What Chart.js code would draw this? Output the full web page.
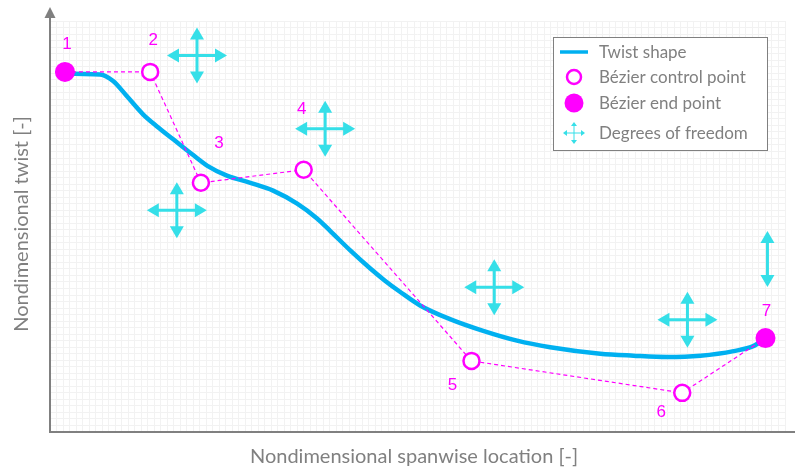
<!DOCTYPE html>
<html>
<head>
<meta charset="utf-8">
<script src="https://cdn.jsdelivr.net/npm/chart.js@4.4.0/dist/chart.umd.min.js"></script>
<style>
  html, body { margin: 0; padding: 0; background: #fff; }
  #wrap { width: 795px; height: 472px; }
</style>
</head>
<body>
<div id="wrap"><canvas id="chartTwist" width="795" height="472"></canvas></div>
<script>
  // Bézier control polygon (spanwise location, twist)
  const ctrlX = [0.023, 0.154, 0.232, 0.390, 0.648, 0.972, 1.100];
  const ctrlY = [0.552, 0.552, 0.382, 0.402, 0.109, 0.060, 0.144];
  const ctrlLabels = ['1', '2', '3', '4', '5', '6', '7'];
  const ctrlIsEnd = [true, false, false, false, false, false, true];

  // Twist shape along the span
  const twistX = [0.023, 0.038, 0.077, 0.097, 0.118, 0.143, 0.165, 0.189, 0.218, 0.242, 0.272, 0.308,
                  0.343, 0.380, 0.411, 0.431, 0.462, 0.492, 0.515, 0.538, 0.569, 0.615, 0.666, 0.718,
                  0.769, 0.846, 0.897, 0.949, 1.000, 1.051, 1.082, 1.100];
  const twistY = [0.552, 0.549, 0.548, 0.538, 0.515, 0.487, 0.468, 0.449, 0.426, 0.408, 0.393, 0.382,
                  0.370, 0.350, 0.327, 0.308, 0.278, 0.251, 0.232, 0.215, 0.194, 0.173, 0.155, 0.140,
                  0.130, 0.120, 0.117, 0.115, 0.117, 0.124, 0.132, 0.144];

  // Degrees of freedom markers (false = vertical only)
  const dofX = [0.226, 0.195, 0.423, 0.683, 0.980, 1.103];
  const dofY = [0.577, 0.340, 0.465, 0.222, 0.172, 0.265];
  const dofHoriz = [true, true, true, true, true, false];

  const legendItems = ['Twist shape', 'Bézier control point', 'Bézier end point', 'Degrees of freedom'];

  const MAGENTA = '#ff00ff';
  const BLUE = '#00b0f0';
  const CYAN = '#35dfe8';
  const GREY = '#808080';

  // label offsets (px) from each control point
  const labelDx = [2, 3, 18, -2, -19, -21, 1];
  const labelDy = [-28, -32, -39, -60, 24, 19, -27];

  function arrowHead(ctx, x, y, dx, dy, len, half) {
    // tip at (x,y), pointing along (dx,dy)
    const bx = x - dx * len, by = y - dy * len;
    ctx.beginPath();
    ctx.moveTo(x, y);
    ctx.lineTo(bx - dy * half, by + dx * half);
    ctx.lineTo(bx + dy * half, by - dx * half);
    ctx.closePath();
    ctx.fill();
  }

  function drawDof(ctx, cx, cy, hx, hy, head, half, width, horiz) {
    ctx.lineWidth = width;
    ctx.beginPath();
    ctx.moveTo(cx, cy - hy + head * 0.5);
    ctx.lineTo(cx, cy + hy - head * 0.5);
    if (horiz) {
      ctx.moveTo(cx - hx + head * 0.5, cy);
      ctx.lineTo(cx + hx - head * 0.5, cy);
    }
    ctx.stroke();
    arrowHead(ctx, cx, cy - hy, 0, -1, head, half);
    arrowHead(ctx, cx, cy + hy, 0, 1, head, half);
    if (horiz) {
      arrowHead(ctx, cx - hx, cy, -1, 0, head, half);
      arrowHead(ctx, cx + hx, cy, 1, 0, head, half);
    }
  }

  const decorations = {
    id: 'decorations',
    beforeDatasetsDraw(chart) {
      const {ctx, chartArea: a} = chart;
      ctx.save();
      ctx.strokeStyle = GREY;
      ctx.fillStyle = GREY;
      ctx.lineWidth = 2;
      ctx.beginPath();
      ctx.moveTo(a.left, a.bottom);
      ctx.lineTo(a.left, 17);
      ctx.moveTo(a.left - 1, a.bottom);
      ctx.lineTo(795, a.bottom);
      ctx.stroke();
      arrowHead(ctx, a.left, 7, 0, -1, 11, 5.5);

      // axis titles
      ctx.font = '20px Lato';
      ctx.textAlign = 'center';
      ctx.textBaseline = 'middle';
      ctx.fillText('Nondimensional spanwise location [-]', 414, 457);
      ctx.translate(22, 224);
      ctx.rotate(-Math.PI / 2);
      ctx.fillText('Nondimensional twist [-]', 0, 0);
      ctx.restore();
    },
    afterDatasetsDraw(chart) {
      const {ctx, scales: {x, y}} = chart;
      ctx.save();
      // degrees of freedom
      ctx.strokeStyle = CYAN;
      ctx.fillStyle = CYAN;
      dofX.forEach((v, i) => {
        drawDof(ctx, x.getPixelForValue(v), y.getPixelForValue(dofY[i]), 30, 28, 12, 7, 3, dofHoriz[i]);
      });
      // point numbers
      ctx.fillStyle = MAGENTA;
      ctx.font = '17px "Liberation Sans"';
      ctx.textAlign = 'center';
      ctx.textBaseline = 'middle';
      ctrlX.forEach((v, i) => {
        ctx.fillText(ctrlLabels[i], x.getPixelForValue(v) + labelDx[i], y.getPixelForValue(ctrlY[i]) + labelDy[i]);
      });
      ctx.restore();
    },
    afterDraw(chart) {
      const {ctx} = chart;
      const bx = 553, by = 37, bw = 214, bh = 113;
      ctx.save();
      ctx.fillStyle = '#fff';
      ctx.fillRect(bx, by, bw, bh);
      ctx.strokeStyle = GREY;
      ctx.lineWidth = 1;
      ctx.strokeRect(bx + 0.5, by + 0.5, bw, bh);

      const rows = [52, 77, 103, 133];
      const sx = 574;
      // twist shape
      ctx.strokeStyle = BLUE;
      ctx.lineWidth = 3.5;
      ctx.beginPath();
      ctx.moveTo(560, rows[0]);
      ctx.lineTo(588, rows[0]);
      ctx.stroke();
      // control point
      ctx.strokeStyle = MAGENTA;
      ctx.lineWidth = 2.5;
      ctx.fillStyle = '#fff';
      ctx.beginPath();
      ctx.arc(sx, rows[1], 7, 0, Math.PI * 2);
      ctx.fill();
      ctx.stroke();
      // end point
      ctx.fillStyle = MAGENTA;
      ctx.beginPath();
      ctx.arc(sx, rows[2], 9.5, 0, Math.PI * 2);
      ctx.fill();
      // degrees of freedom
      ctx.strokeStyle = CYAN;
      ctx.fillStyle = CYAN;
      drawDof(ctx, sx, rows[3], 11, 11, 4, 3, 1, true);

      ctx.fillStyle = GREY;
      ctx.font = '17px Lato';
      ctx.textAlign = 'left';
      ctx.textBaseline = 'middle';
      legendItems.forEach((t, i) => ctx.fillText(t, 599, rows[i] + 1));
      ctx.restore();
    }
  };

  const ctrlPoints = ctrlX.map((v, i) => ({x: v, y: ctrlY[i]}));
  const twistPoints = twistX.map((v, i) => ({x: v, y: twistY[i]}));

  const chartTwist = new Chart(document.getElementById('chartTwist').getContext('2d'), {
    type: 'scatter',
    data: {
      datasets: [
        {
          label: 'Bézier control point',
          data: ctrlPoints,
          showLine: true,
          borderColor: MAGENTA,
          borderWidth: 1.2,
          borderDash: [4, 3],
          pointRadius: ctrlIsEnd.map(e => e ? 10 : 8),
          pointBackgroundColor: ctrlIsEnd.map(e => e ? MAGENTA : '#ffffff'),
          pointBorderColor: MAGENTA,
          pointBorderWidth: ctrlIsEnd.map(e => e ? 0 : 2.5)
        },
        {
          label: 'Twist shape',
          data: twistPoints,
          showLine: true,
          borderColor: BLUE,
          borderWidth: 4.5,
          pointRadius: 0,
          cubicInterpolationMode: 'monotone'
        }
      ]
    },
    options: {
      responsive: false,
      animation: false,
      layout: { padding: { left: 50, top: 21, right: 10, bottom: 40 } },
      plugins: { legend: { display: false }, tooltip: { enabled: false } },
      scales: {
        x: {
          min: 0, max: 1.13,
          ticks: { display: false, stepSize: 0.01 },
          grid: { color: '#f2f2f2', drawTicks: false },
          border: { display: false }
        },
        y: {
          min: 0, max: 0.63,
          ticks: { display: false, stepSize: 0.01 },
          grid: { color: '#f2f2f2', drawTicks: false },
          border: { display: false }
        }
      }
    },
    plugins: [decorations]
  });
</script>
</body>
</html>
